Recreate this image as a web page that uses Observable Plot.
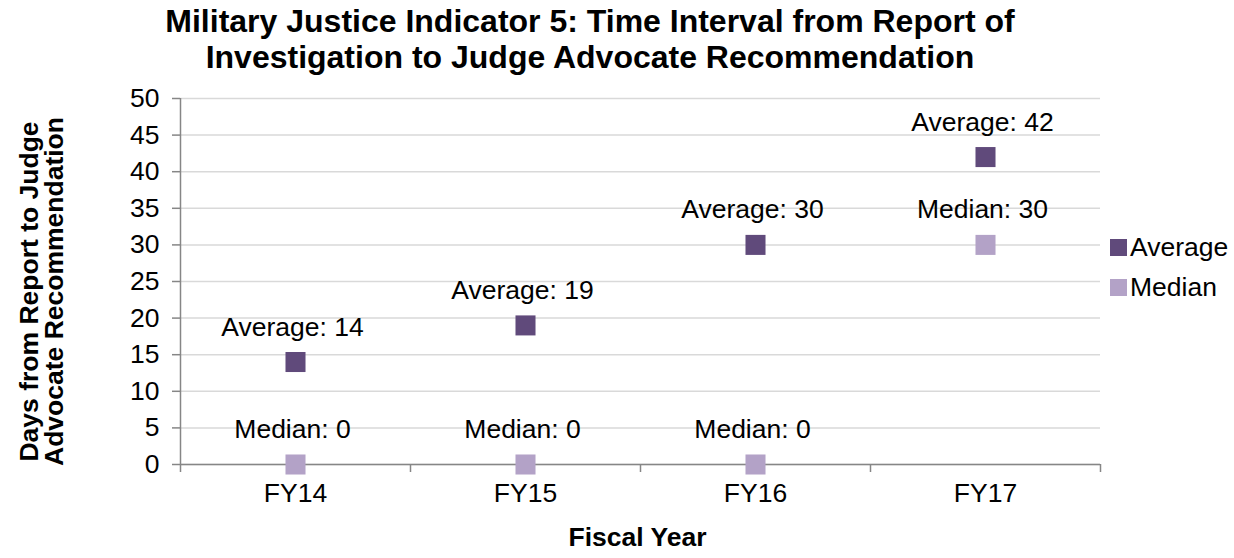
<!DOCTYPE html>
<html>
<head>
<meta charset="utf-8">
<script src="https://cdn.jsdelivr.net/npm/d3@7"></script>
<script src="https://cdn.jsdelivr.net/npm/@observablehq/plot@0.6"></script>
<style>
  html, body { margin: 0; padding: 0; background: #fff; }
  body { width: 1234px; height: 558px; position: relative; overflow: hidden; font-family: "Liberation Sans", Arial, sans-serif; }
  #title { position: absolute; left: 0; top: 3px; width: 1180px; text-align: center; font-weight: bold; font-size: 32px; line-height: 36px; color: #000; }
  #chart { position: absolute; left: 0; top: 78px; }
  #legend { position: absolute; left: 1110px; top: 227px; font-size: 26.5px; color: #000; }
  .li { display: flex; align-items: center; height: 40px; }
  .sw { width: 17px; height: 17px; margin-right: 3px; }
</style>
</head>
<body>
<div id="title">Military Justice Indicator 5: Time Interval from Report of<br>Investigation to Judge Advocate Recommendation</div>
<div id="chart"></div>
<div id="legend"></div>
<script>
const categories = ["FY14", "FY15", "FY16", "FY17"];
const averageValues = [14, 19, 30, 42];
const medianValues = [0, 0, 0, 30];
const seriesNames = ["Average", "Median"];
const seriesColors = ["#604A7B", "#B3A2C7"];
const yTicks = [0, 5, 10, 15, 20, 25, 30, 35, 40, 45, 50];

const data = [];
categories.forEach((c, i) => {
  data.push({cat: c, idx: i + 0.5, series: "Average", value: averageValues[i]});
  data.push({cat: c, idx: i + 0.5, series: "Median", value: medianValues[i]});
});

const font = "'Liberation Sans', Arial, sans-serif";
const fs = 26.5;
const chart = Plot.plot({
  width: 1234,
  height: 480,
  marginLeft: 180,
  marginRight: 134,
  marginTop: 20,
  marginBottom: 94,
  style: {fontFamily: font, fontSize: fs + "px", color: "#000", background: "#fff", overflow: "visible"},
  x: {domain: [0, categories.length], type: "linear"},
  y: {domain: [0, 50]},
  color: {domain: seriesNames, range: seriesColors},
  marks: [
    Plot.gridY(yTicks, {stroke: "#D9D9D9", strokeOpacity: 1, strokeWidth: 1.5}),
    Plot.ruleY([0], {stroke: "#868686", strokeWidth: 1.5}),
    Plot.ruleX([0], {stroke: "#868686", strokeWidth: 1.5}),
    Plot.axisY({ticks: yTicks, tickSize: 8, tickPadding: 13, stroke: "#868686", strokeWidth: 1.5, label: null, fontSize: fs}),
    Plot.axisX({ticks: d3.range(categories.length + 1), tickSize: 8, tickFormat: () => "", stroke: "#868686", strokeWidth: 1.5, label: null}),
    Plot.axisX({ticks: categories.map((c, i) => i + 0.5), tickSize: 0, tickPadding: 19, tickFormat: v => categories[Math.floor(v)], label: null, fontSize: fs}),
    Plot.dot(data, {x: "idx", y: "value", fill: "series", symbol: "square", r: 11.3}),
    Plot.text(data, {x: "idx", y: "value", text: d => `${d.series}: ${d.value}`, dy: -35, dx: -3, fontSize: fs, fill: "#000"}),
    Plot.text(["Days from Report to Judge\nAdvocate Recommendation"], {frameAnchor: "left", textAnchor: "middle", dx: -138, dy: 10, rotate: -90, fontWeight: "bold", fontSize: fs, lineHeight: 0.95, fill: "#000"}),
    Plot.text(["Fiscal Year"], {frameAnchor: "bottom", dy: 81, fontWeight: "bold", fontSize: fs, fill: "#000", dx: -3})
  ]
});
document.getElementById("chart").appendChild(chart);

const legend = document.getElementById("legend");
seriesNames.forEach((s, i) => {
  const row = document.createElement("div");
  row.className = "li";
  row.innerHTML = `<div class="sw" style="background:${seriesColors[i]}"></div><span>${s}</span>`;
  legend.appendChild(row);
});
</script>
</body>
</html>
